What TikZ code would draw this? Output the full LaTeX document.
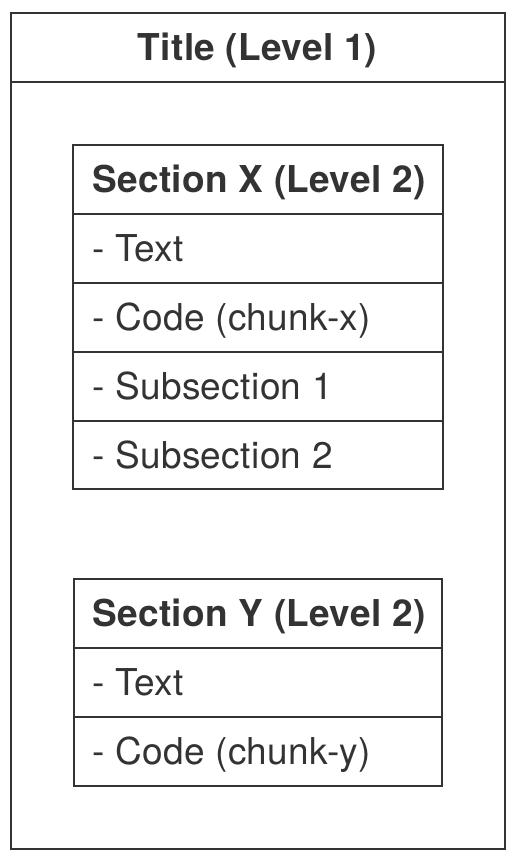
\documentclass[tikz,border=0pt]{standalone}
\usepackage{fontspec}
\setmainfont{TeX Gyre Heros}[LetterSpace=1.0]
\begin{document}
\begin{tikzpicture}[x=1pt,y=-1pt,
  frame/.style={draw=ln,line width=2pt},
  lbl/.style={inner sep=0pt,text height=26.6pt,text depth=0pt,text=tx,font=\fontsize{37}{42}\selectfont},
  hdr/.style={lbl,font=\fontsize{37}{42}\selectfont\bfseries}]
\definecolor{ln}{HTML}{333333}
\definecolor{tx}{HTML}{333333}
\useasboundingbox[fill=white] (0,0) rectangle (520,862);
% outer
\draw[frame] (11,13) rectangle (505,849);
\draw[frame] (11,82) -- (505,82);
\node[hdr] (title) at (257.5,47.5) {Title (Level 1)};
% section X
\draw[frame] (73,145) rectangle (443,489);
\foreach \y in {214,283,352,421} \draw[frame] (73,\y) -- (443,\y);
\node[hdr,anchor=west] (sx) at (92,179.5) {Section X (Level 2)};
\node[lbl,anchor=west] (sx1) at (92,248.5) {- Text};
\node[lbl,anchor=west] (sx2) at (92,317.5) {- Code (chunk-x)};
\node[lbl,anchor=west] (sx3) at (92,386.5) {- Subsection 1};
\node[lbl,anchor=west] (sx4) at (92,455) {- Subsection 2};
% section Y
\draw[frame] (74,579) rectangle (442,786);
\foreach \y in {648,717} \draw[frame] (74,\y) -- (442,\y);
\node[hdr,anchor=west] (sy) at (92,613.5) {Section Y (Level 2)};
\node[lbl,anchor=west] (sy1) at (92,682.5) {- Text};
\node[lbl,anchor=west] (sy2) at (92,751.5) {- Code (chunk-y)};
\end{tikzpicture}
\end{document}
